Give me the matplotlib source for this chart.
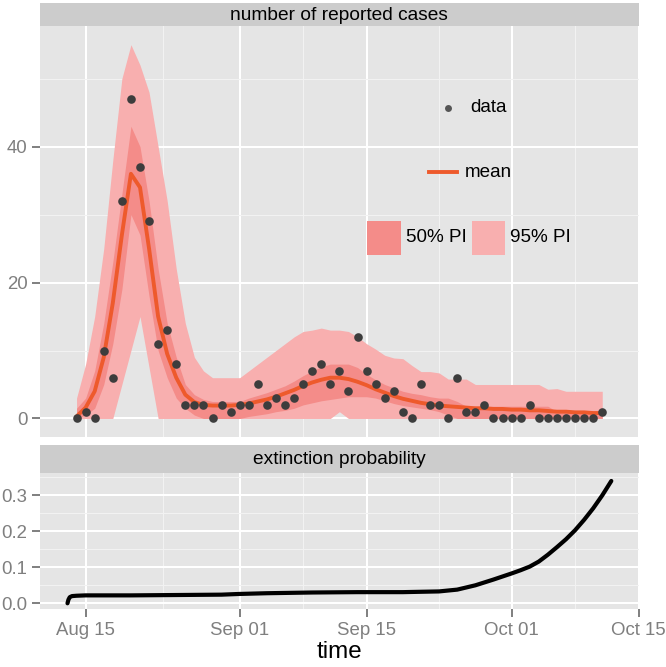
import numpy as np
import pandas as pd
import matplotlib
matplotlib.use('Agg')
import matplotlib.pyplot as plt
import matplotlib.dates as mdates

plt.rcParams['font.family'] = ['Liberation Sans', 'DejaVu Sans']

# reported cases, one per day from Aug 14
dates = pd.date_range('2014-08-14', periods=59, freq='D')
cases = [0, 1, 0, 10, 6, 32, 47, 37, 29, 11, 13, 8, 2, 2, 2, 0, 2, 1,
         2, 2, 5, 2, 3, 2, 3, 5, 7, 8, 5, 7, 4, 12, 7, 5, 3, 4, 1, 0, 5, 2, 2, 0, 6, 1, 1, 2, 0, 0,
         0, 0, 2, 0, 0, 0, 0, 0, 0, 0, 1]

mean = [0.3, 1.6, 4, 9, 17, 27, 36, 34, 25, 15, 9.5, 6, 3.5, 2.4, 2.0, 1.9, 1.9, 1.9,
        2.0, 2.2, 2.5, 2.8, 3.2, 3.7, 4.2, 4.8, 5.3, 5.7, 6.0, 6.0, 5.8, 5.4, 4.9, 4.3, 3.8, 3.3,
        2.9, 2.6, 2.3, 2.1, 1.9, 1.8, 1.7, 1.6, 1.5, 1.5, 1.4, 1.4,
        1.3, 1.3, 1.2, 1.2, 1.1, 1.0, 1.0, 0.9, 0.9, 0.8, 0.8]

lo50 = [0, 0.5, 1.5, 5, 11, 19, 30, 27, 18, 10, 6, 3, 1.5, 0.5, 0, 0, 0, 0,
        0, 0.3, 0.5, 0.7, 1.0, 1.2, 1.5, 2.0, 2.3, 2.6, 2.8, 3.0, 3.2, 3.2, 3.2, 3.0, 2.6, 2.2,
        1.9, 1.7, 1.5, 1.3, 1.0, 0.5, 0, 0, 0, 0, 0, 0,
        0, 0, 0, 0, 0, 0, 0, 0, 0, 0, 0]
hi50 = [1.5, 3, 7, 14, 23, 33, 43, 40, 32, 22, 14, 9, 5, 3.5, 2.8, 2.5, 2.5, 2.5,
        2.5, 3.0, 3.4, 3.8, 4.3, 4.8, 5.5, 6.3, 7.0, 7.6, 8.0, 8.0, 8.0, 7.5, 6.5, 5.7, 5.0, 4.5,
        4.0, 3.7, 3.5, 3.2, 3.0, 3.0, 2.5, 1.8, 1.8, 1.8, 1.8, 1.8,
        1.8, 1.8, 1.8, 1.8, 1.8, 1.0, 1.0, 1.0, 1.0, 1.0, 1.0]
lo95 = [0, 0, 0, 0, 0, 5, 10, 15, 7.5, 0, 0, 0, 0, 0, 0, 0, 0, 0,
        0, 0, 0, 0, 0, 0, 0, 0, 0, 0, 0, 1, 0, 0, 0, 0, 0, 0,
        0, 0, 0, 0, 0, 0, 0, 0, 0, 0, 0, 0,
        0, 0, 0, 0, 0, 0, 0, 0, 0, 0, 0]
hi95 = [3, 8, 15, 25, 38, 50, 55, 52, 48, 40, 32, 22, 14, 9, 7, 6, 6, 6,
        6, 7, 8, 9, 10, 11, 12, 12.8, 13, 13.3, 13, 13, 12.8, 12, 11, 10.2, 9.3, 8.9,
        8.8, 7.8, 6.9, 6.9, 6.7, 5.8, 5.8, 5.8, 5.0, 5.0, 5.0, 5.0,
        5.0, 5.0, 5.0, 5.0, 4.3, 4.4, 4.0, 4.0, 4.0, 4.0, 4.0]

# extinction probability
ext_time = pd.to_datetime(['2014-08-13 00:00', '2014-08-13 02:30', '2014-08-13 06:00',
                           '2014-08-13 12:00', '2014-08-14 00:00', '2014-08-15 00:00',
                           '2014-08-20 00:00', '2014-08-25 00:00', '2014-08-30 00:00',
                           '2014-09-01 00:00', '2014-09-04 00:00', '2014-09-09 00:00',
                           '2014-09-14 00:00', '2014-09-19 00:00', '2014-09-23 00:00',
                           '2014-09-25 00:00', '2014-09-27 00:00', '2014-09-29 00:00',
                           '2014-10-01 00:00', '2014-10-02 00:00', '2014-10-03 00:00',
                           '2014-10-04 00:00', '2014-10-05 00:00', '2014-10-06 00:00',
                           '2014-10-07 00:00', '2014-10-08 00:00', '2014-10-09 00:00',
                           '2014-10-10 00:00', '2014-10-11 00:00', '2014-10-12 00:00'],
                          format='%Y-%m-%d %H:%M')
ext_prob = [0.0, 0.010, 0.017, 0.020, 0.021, 0.022, 0.022, 0.023, 0.024, 0.026, 0.028,
            0.030, 0.031, 0.031, 0.033, 0.038, 0.050, 0.066, 0.083, 0.092, 0.102, 0.116,
            0.135, 0.156, 0.178, 0.203, 0.232, 0.264, 0.300, 0.340]

bg = '#E5E5E5'
strip_bg = '#CCCCCC'
tick_col = '#7F7F7F'
col50 = '#F48C89'
col95 = '#F8AFAF'
line_col = '#EE5A2C'

fig = plt.figure(figsize=(6.66, 6.67), dpi=100)
W, H = 666, 667
def box(l, t, r, b):
    return [l / W, 1 - b / H, (r - l) / W, (b - t) / H]

xl, xr = 40.3, 638.5
ax1 = fig.add_axes(box(xl, 26, xr, 437.3))
ax2 = fig.add_axes(box(xl, 472.7, xr, 609.3), sharex=ax1)
s1 = fig.add_axes(box(xl, 3, xr, 26))
s2 = fig.add_axes(box(xl, 445, xr, 472.7))

for s, txt in [(s1, 'number of reported cases'), (s2, 'extinction probability')]:
    s.set_facecolor(strip_bg)
    s.set_xticks([]); s.set_yticks([])
    for sp in s.spines.values():
        sp.set_visible(False)
    s.text(0.5, 0.47, txt, ha='center', va='center', fontsize=13.8, transform=s.transAxes)

xmin = pd.Timestamp('2014-08-10')
xmax = pd.Timestamp('2014-10-15')
major = pd.to_datetime(['2014-08-15', '2014-09-01', '2014-09-15', '2014-10-01', '2014-10-15'])
minor = pd.to_datetime(['2014-08-23 12:00', '2014-09-08 00:00', '2014-09-23 00:00',
                        '2014-10-08 00:00'], format='%Y-%m-%d %H:%M')

for ax in (ax1, ax2):
    ax.set_facecolor(bg)
    for sp in ax.spines.values():
        sp.set_visible(False)
    ax.set_xlim(xmin, xmax)
    ax.set_xticks(major)
    ax.set_xticks(minor, minor=True)
    ax.xaxis.set_major_formatter(mdates.DateFormatter('%b %d'))
    ax.grid(which='major', color='white', lw=1.45)
    ax.grid(which='minor', color='#F2F2F2', lw=0.75)
    ax.set_axisbelow(True)
    ax.tick_params(which='major', color=tick_col, labelcolor=tick_col, labelsize=13.4,
                   length=5.8, width=1.4, pad=3.5)
    ax.tick_params(which='minor', length=0)

# top panel
ax1.fill_between(dates, lo95, hi95, color=col95, lw=0, zorder=2)
ax1.fill_between(dates, lo50, hi50, color=col50, lw=0, zorder=3)
ax1.plot(dates, mean, color=line_col, lw=2.8, zorder=4)
ax1.plot(dates, cases, 'o', color='#3D3D3D', ms=6.2, mec='none', zorder=5)
ax1.set_ylim(-2.77, 57.75)
ax1.set_yticks([0, 20, 40])
ax1.set_yticks([10, 30, 50], minor=True)
ax1.tick_params(labelbottom=False, which='both', bottom=False)

# in-panel legend
d0 = pd.Timestamp('2014-08-15')
day = pd.Timedelta(days=1)
ax1.plot([d0 + 40 * day], [45.7], 'o', color='#555555', ms=5, mec='none', zorder=6)
ax1.text(d0 + 42.4 * day, 45.7, 'data', fontsize=13.6, va='center', ha='left')
ax1.plot([d0 + 37.9 * day, d0 + 41 * day], [36.2, 36.2], color=line_col, lw=2.8)
ax1.text(d0 + 41.8 * day, 36.2, 'mean', fontsize=13.6, va='center', ha='left')
ax1.fill_between([d0 + 31.1 * day, d0 + 34.8 * day], 24.1, 29.1, color=col50, lw=0, zorder=6)
ax1.text(d0 + 35.3 * day, 26.6, '50% PI', fontsize=13.6, va='center', ha='left')
ax1.fill_between([d0 + 42.6 * day, d0 + 46.3 * day], 24.1, 29.1, color=col95, lw=0, zorder=6)
ax1.text(d0 + 46.8 * day, 26.6, '95% PI', fontsize=13.6, va='center', ha='left')

# bottom panel
ax2.plot(ext_time, ext_prob, color='black', lw=3, solid_capstyle='round')
ax2.set_ylim(-0.0167, 0.363)
ax2.set_yticks([0.0, 0.1, 0.2, 0.3])
ax2.set_yticks([0.05, 0.15, 0.25, 0.35], minor=True)
ax2.yaxis.set_major_formatter(plt.FormatStrFormatter('%.1f'))
ax2.set_xlabel('time', fontsize=17.4, labelpad=1)

fig.savefig('out.png', dpi=100)
